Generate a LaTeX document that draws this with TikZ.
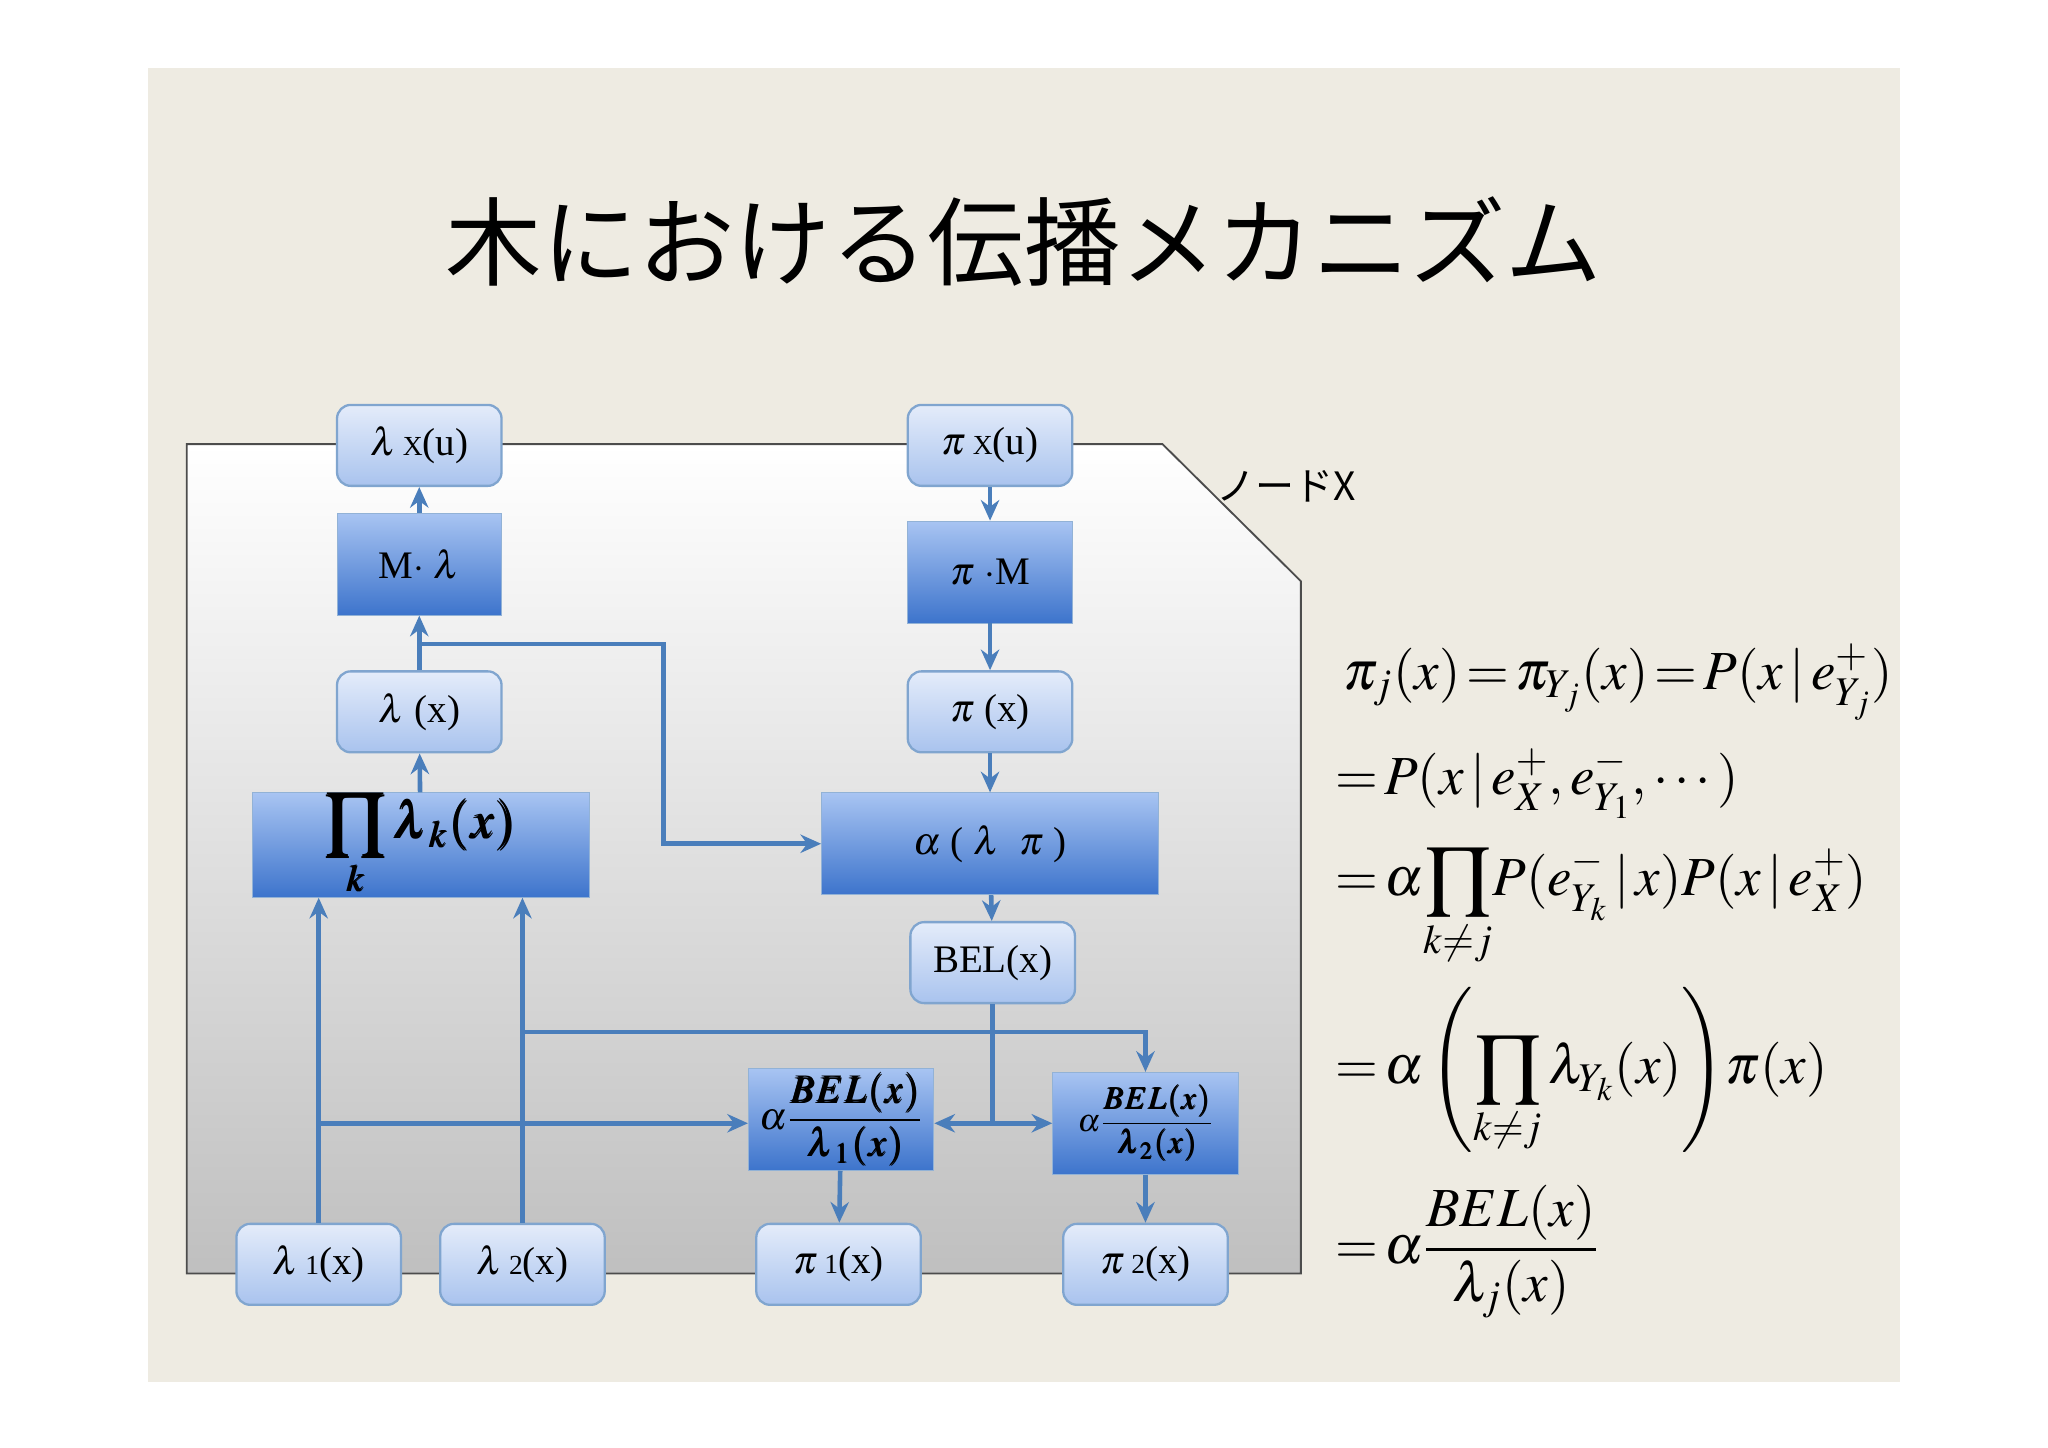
\documentclass[tikz,border=0pt]{standalone}
\usepackage{amsmath}
\usepackage{mathptmx}
\usepackage{bm}
\usepackage{fontspec}
\setmainfont{Liberation Serif}
\newfontfamily\cjk{Noto Sans CJK JP}
\usetikzlibrary{arrows.meta}
\definecolor{bg}{HTML}{EEEBE2}
\definecolor{ar}{HTML}{4A7EBB}
\definecolor{lt}{HTML}{E4ECFA}
\definecolor{lb}{HTML}{A9C3EE}
\definecolor{dt}{HTML}{A8C4F2}
\definecolor{db}{HTML}{3D74CC}
\begin{document}
\begin{tikzpicture}[x=0.02cm,y=-0.02cm,
 light/.style={rounded corners=6pt,top color=lt,bottom color=lb,draw=ar!70,line width=1pt,minimum width=2.52cm,minimum height=1.24cm,inner sep=0pt,font=\fontsize{17}{20}\selectfont},
 dark/.style={top color=dt,bottom color=db,draw=ar!60,minimum width=2.52cm,minimum height=1.56cm,inner sep=0pt,font=\fontsize{17}{20}\selectfont},
 ar/.style={draw=ar,line width=2pt,-{Stealth[length=9pt,width=8pt]}},
 ln/.style={draw=ar,line width=2pt}]
\useasboundingbox (0,0) rectangle (1568,1108);
\fill[white] (0,0) rectangle (1568,1108);
\fill[bg] (113,52) rectangle (1455,1058);
\node[font=\cjk\fontsize{42}{48}\selectfont] (title) at (784,185) {木における伝播メカニズム};
\shade[top color=white,bottom color=black!25,draw=black!70,line width=0.8pt] (143,340) -- (890,340) -- (996,445) -- (996,975) -- (143,975) -- cycle;
\node[font=\cjk\fontsize{17}{20}\selectfont] (lbl) at (985,372) {ノードX};
% boxes
\node[light] (lxu) at (321,341) {$\lambda$\,{\fontsize{12}{14}\selectfont X}(u)};
\node[light] (pxu) at (758,341) {$\pi$\,{\fontsize{12}{14}\selectfont X}(u)};
\node[dark] (ml) at (321,432) {M$\cdot$ $\lambda$};
\node[dark] (pm) at (758,438) {$\pi$ $\cdot$M};
\node[light] (lx) at (321,545) {$\lambda$ (x)};
\node[light] (px) at (758,545) {$\pi$ (x)};
\node[dark,minimum width=5.16cm] (prod) at (322,647) {\fontsize{22}{26}\selectfont$\displaystyle\bm{\prod_k\lambda_k(x)}$};
\node[dark,minimum width=5.16cm] (alp) at (758,646) {$\alpha$ ( $\lambda$ \ $\pi$ )};
\node[light] (bel) at (760,737) {BEL(x)};
\node[dark,minimum width=2.84cm] (b1) at (644,857) {$\alpha\dfrac{\bm{BEL(x)}}{\bm{\lambda_1(x)}}$};
\node[dark,minimum width=2.84cm] (b2) at (877,860) {\fontsize{14}{16}\selectfont$\alpha\dfrac{\bm{BEL(x)}}{\bm{\lambda_2(x)}}$};
\node[light] (l1) at (244,968) {$\lambda$\,{\fontsize{12}{14}\selectfont 1}(x)};
\node[light] (l2) at (400,968) {$\lambda$\,{\fontsize{12}{14}\selectfont 2}(x)};
\node[light] (p1) at (642,968) {$\pi$\,{\fontsize{12}{14}\selectfont 1}(x)};
\node[light] (p2) at (877,968) {$\pi$\,{\fontsize{12}{14}\selectfont 2}(x)};
% arrows
\draw[ar] (ml) -- (lxu);
\draw[ar] (lx) -- (ml);
\draw[ar] (prod) -- (lx);
\coordinate (j1) at (321,493);
\draw[ar] (j1) -- (508,493) -- (508,646) -- (alp.west);
\draw[ar] (pxu) -- (pm);
\draw[ar] (pm) -- (px);
\draw[ar] (px) -- (alp);
\draw[ar] (alp) -- (bel);
\draw[ar] (l1.north) -- (l1.north |- prod.south);
\draw[ar] (l2.north) -- (l2.north |- prod.south);
\coordinate (j2) at (244,860);
\draw[ar] (j2) -- (b1.west |- j2);
\coordinate (j3) at (400,790);
\draw[ar] (j3) -- (877,790) -- (b2.north);
\coordinate (j4) at (760,860);
\draw[ln] (bel) -- (j4);
\draw[ar] (j4) -- (b1.east |- j4);
\draw[ar] (j4) -- (b2.west |- j4);
\draw[ar] (b1) -- (p1);
\draw[ar] (b2) -- (p2);
% equations
\begin{scope}[every node/.style={anchor=west,font=\fontsize{24}{28}\selectfont,inner sep=0pt}]
\node (e1) at (1028,522) {$\pi_j(x)\!=\!\pi_{Y_j}(x)\!=\!P(x\,|\,e^+_{Y_j})$};
\node (e2) at (1022,600) {$=\!P(x\,|\,e^+_X,e^-_{Y_1},\cdots)$};
\node (e3) at (1022,695) {$=\!\alpha\!\displaystyle\prod\limits_{k\neq j}\!P(e^-_{Y_k}\,|\,x)P(x\,|\,e^+_X)$};
\node (e4) at (1022,820) {$=\!\alpha\left(\displaystyle\prod\limits_{k\neq j}\lambda_{Y_k}(x)\right)\!\pi(x)$};
\node (e5) at (1022,958) {$=\!\alpha\dfrac{BEL(x)}{\lambda_j(x)}$};
\end{scope}
\end{tikzpicture}
\end{document}
